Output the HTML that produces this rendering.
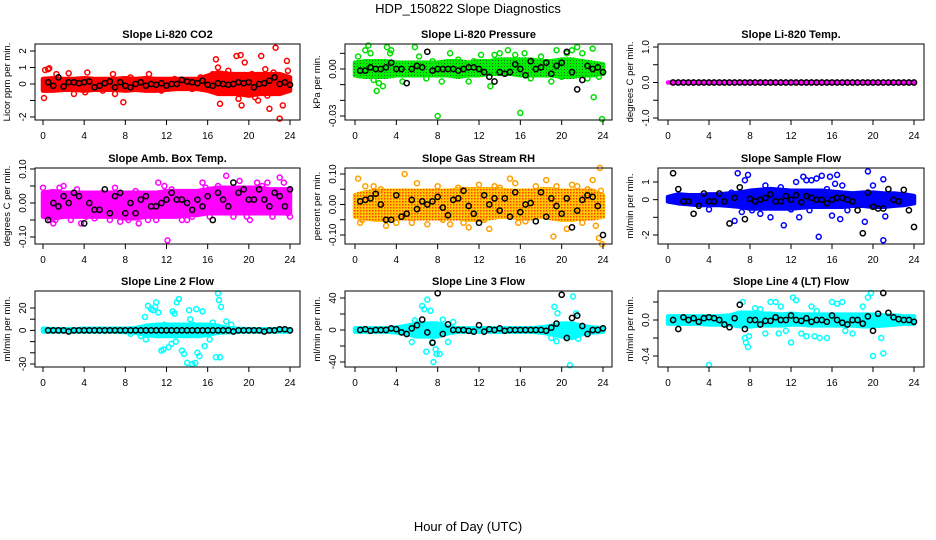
<!DOCTYPE html>
<html><head><meta charset="utf-8"><style>
html,body{margin:0;padding:0;background:#fff;}
svg{display:block;font-family:"Liberation Sans",sans-serif;}
</style></head><body>
<svg id="chart" width="936" height="540" viewBox="0 0 936 540" xmlns="http://www.w3.org/2000/svg">
<defs>
<pattern id="orangePat" width="3" height="3" patternUnits="userSpaceOnUse"><rect width="3" height="3" fill="#ffc800"/><rect x="0" y="0" width="1.5" height="1.5" fill="#ff4000"/></pattern>
<pattern id="greenPat" width="3" height="3" patternUnits="userSpaceOnUse"><rect width="3" height="3" fill="#00ee00"/><rect x="0" y="0" width="1" height="1" fill="#207020"/></pattern>
</defs>
<rect width="936" height="540" fill="#fff"/>
<text x="468" y="13" text-anchor="middle" font-size="13">HDP_150822  Slope Diagnostics</text>
<text x="468" y="531" text-anchor="middle" font-size="13">Hour of Day (UTC)</text>
<g id="panels"></g>
</svg>
<script>
// ---- data ----
const xTicks = [0,4,8,12,16,20,24];
const panelTitles = ["Slope Li-820 CO2","Slope Li-820 Pressure","Slope Li-820 Temp.","Slope Amb. Box Temp.","Slope Gas Stream RH","Slope Sample Flow","Slope Line 2 Flow","Slope Line 3 Flow","Slope Line 4 (LT) Flow"];
const yLabels = ["Licor ppm per min.","kPa per min.","degrees C per min.","degrees C per min.","percent per min.","ml/min per min.","ml/min per min.","ml/min per min.","ml/min per min."];
const yTickVals = [[-2,-1,0,1,2],[0.01,0,-0.01,-0.02,-0.03],[1,0.5,0,-0.5,-1],[0.1,0.05,0,-0.05,-0.1],[0.1,0.05,0,-0.05,-0.1],[1,0,-1,-2],[20,10,0,-10,-20,-30],[40,20,0,-20,-40],[0.2,0,-0.2,-0.4]];
const yTickLabels = [["-2","","0","1","2"],["","0.00","","","-0.03"],["1.0","","0.0","","-1.0"],["0.10","","0.00","","-0.10"],["0.10","","0.00","","-0.10"],["1","0","","-2"],["20","","0","","","-30"],["40","","0","","-40"],["","0.0","","-0.4"]];

const p1Lo=[-0.4,-0.4,-0.35,-0.35,-0.4,-0.35,-0.35,-0.35,-0.4,-0.35,-0.4,-0.4,-0.35,-0.3,-0.3,-0.3,-0.4,-0.6,-0.6,-0.6,-0.7,-0.6,-0.6,-0.6,-0.4];
const p1Hi=[0.3,0.35,0.3,0.3,0.35,0.3,0.3,0.3,0.35,0.3,0.35,0.3,0.3,0.3,0.3,0.3,0.5,0.7,0.6,0.6,0.6,0.6,0.6,0.6,0.4];
const p1Out=[[0.1,-0.85],[0.2,0.85],[0.5,0.9],[0.6,0.95],[1.3,0.6],[1.9,-0.3],[2.5,0.65],[3.0,-0.6],[4.1,-0.5],[4.3,0.7],[5.8,-0.4],[6.8,0.6],[7.0,-0.6],[7.8,-1.1],[8.5,0.4],[9.6,0.2],[10.3,0.6],[11.5,-0.4],[12.8,0.3],[14.5,-0.3],[15.3,0.4],[16.8,1.5],[17.0,1.0],[17.2,-1.2],[17.8,0.6],[18.5,-0.5],[18.8,1.7],[19.2,1.75],[19.0,-0.9],[19.3,-1.3],[19.6,1.3],[20.3,0.6],[20.6,-0.8],[20.9,-1.0],[21.2,1.7],[21.6,0.9],[22.0,-1.5],[22.4,0.7],[22.6,2.2],[23.0,-2.1],[23.3,-1.3],[23.7,1.4],[23.8,0.8],[21.8,-0.7],[18.0,0.8],[16.5,0.6]];
const p1Black=[0.1,-0.1,0.4,-0.15,0.1,0.1,0.05,0.1,0.15,-0.2,-0.1,0.05,0.15,-0.2,0.1,-0.1,-0.2,0.0,0.1,-0.1,0.0,-0.05,0.05,-0.1,0.0,0.0,0.25,0.15,0.1,0.05,0.2,-0.05,-0.1,0.05,0.0,-0.05,0.0,0.1,0.05,0.1,-0.2,0.0,0.05,0.2,0.4,0.0,0.1,-0.05];

const p2Lo=[-0.004,-0.005,-0.005,-0.005,-0.004,-0.004,-0.004,-0.004,-0.004,-0.004,-0.005,-0.004,-0.004,-0.003,-0.003,-0.003,-0.004,-0.004,-0.004,-0.004,-0.005,-0.005,-0.004,-0.004,-0.003];
const p2Hi=[0.004,0.005,0.005,0.005,0.004,0.004,0.004,0.004,0.004,0.005,0.005,0.004,0.005,0.005,0.006,0.006,0.006,0.006,0.005,0.005,0.006,0.006,0.005,0.004,0.003];
const p2Out=[[0.3,0.008],[0.5,-0.004],[1.0,0.012],[1.3,0.015],[1.5,0.01],[1.8,-0.007],[2.1,-0.014],[2.3,-0.009],[2.7,-0.011],[3.1,0.014],[3.4,0.01],[3.5,0.012],[4.6,-0.008],[5.8,0.014],[6.2,0.008],[6.9,-0.006],[7.5,0.005],[8.0,-0.03],[8.4,-0.008],[9.2,0.01],[10.0,0.006],[11.0,-0.008],[11.5,0.005],[12.2,0.009],[13.1,-0.011],[13.5,0.009],[14.0,0.01],[14.8,0.012],[15.5,0.009],[16.0,-0.028],[16.4,0.01],[17.0,-0.006],[18.0,0.008],[19.5,0.012],[20.0,-0.005],[20.5,0.01],[21.0,0.012],[21.5,0.014],[22.0,0.01],[22.5,-0.006],[23.0,0.013],[23.1,-0.018],[23.9,-0.032],[23.6,-0.005],[19.0,-0.008]];
const p2Black=[-0.001,-0.001,0.001,0.0,0.0,0.001,0.004,0.0,0.0,-0.009,0.0,0.002,0.001,0.011,-0.001,0.0,0.0,0.0,0.0,-0.001,0.0,0.001,0.001,0.0,-0.002,-0.005,-0.008,-0.002,-0.003,-0.002,0.003,0.0,-0.004,0.005,0.0,0.001,0.004,-0.003,0.002,0.004,0.011,-0.002,-0.013,-0.007,0.002,0.0,0.001,-0.002];

const p3Lo=[0,0,0,0,0,0,0,0,0,0,0,0,0,0,0,0,0,0,0,0,0,0,0,0,0];
const p3Hi=[0,0,0,0,0,0,0,0,0,0,0,0,0,0,0,0,0,0,0,0,0,0,0,0,0];
const p3Out=[];
const p3Black=[0,0,0,0,0,0,0,0,0,0,0,0,0,0,0,0,0,0,0,0,0,0,0,0,0,0,0,0,0,0,0,0,0,0,0,0,0,0,0,0,0,0,0,0,0,0,0,0];

const p4Lo=[-0.04,-0.045,-0.04,-0.04,-0.04,-0.04,-0.04,-0.04,-0.045,-0.045,-0.04,-0.04,-0.04,-0.04,-0.035,-0.035,-0.03,-0.03,-0.03,-0.03,-0.03,-0.03,-0.03,-0.03,-0.03];
const p4Hi=[0.03,0.035,0.03,0.03,0.03,0.03,0.03,0.03,0.03,0.03,0.03,0.03,0.035,0.035,0.035,0.035,0.04,0.045,0.045,0.045,0.045,0.045,0.04,0.04,0.04];
const p4Out=[[0.0,0.045],[0.4,-0.03],[0.7,-0.05],[1.2,-0.05],[1.6,0.045],[2.0,0.05],[2.7,-0.05],[3.3,0.04],[4.2,-0.04],[5.0,-0.045],[5.8,0.03],[6.5,-0.05],[7.0,0.045],[7.5,-0.055],[8.3,-0.05],[9.0,0.035],[9.3,-0.06],[10.2,-0.05],[11.0,-0.05],[11.2,0.06],[11.8,0.05],[12.1,-0.11],[12.5,0.04],[13.5,-0.05],[14.0,-0.05],[14.5,-0.04],[15.5,0.06],[15.8,0.045],[17.0,0.05],[17.8,0.08],[18.5,-0.04],[19.1,0.065],[19.8,-0.04],[20.1,-0.05],[20.8,0.06],[21.3,0.05],[21.8,0.06],[22.3,-0.04],[23.0,0.075],[23.4,0.06],[23.8,-0.03],[24.0,-0.04],[16.2,-0.04],[3.7,-0.06],[1.0,-0.06]];
const p4Black=[-0.05,0.0,-0.01,0.02,0.0,0.03,0.02,-0.06,0.0,-0.02,-0.02,0.04,-0.03,0.02,0.03,-0.03,0.0,-0.03,0.01,0.02,-0.01,-0.01,0.0,0.01,0.03,0.01,0.01,0.0,-0.02,0.01,-0.01,0.02,-0.05,0.03,0.01,-0.01,0.06,0.03,0.04,0.01,0.01,0.04,0.01,-0.01,0.03,0.02,-0.01,0.04];

const p5Lo=[-0.04,-0.045,-0.05,-0.05,-0.045,-0.045,-0.045,-0.045,-0.045,-0.045,-0.045,-0.05,-0.05,-0.045,-0.04,-0.04,-0.045,-0.045,-0.04,-0.045,-0.05,-0.05,-0.045,-0.045,-0.04];
const p5Hi=[0.03,0.04,0.045,0.045,0.045,0.045,0.045,0.045,0.045,0.045,0.05,0.05,0.05,0.05,0.05,0.045,0.045,0.045,0.05,0.05,0.045,0.045,0.045,0.045,0.03];
const p5Out=[[0.3,0.085],[0.5,-0.06],[0.7,-0.05],[1.0,0.06],[1.8,0.06],[2.5,0.05],[3.0,-0.07],[4.0,-0.06],[4.8,0.1],[5.5,-0.06],[6.0,0.07],[7.0,-0.065],[8.0,0.06],[8.5,-0.05],[9.2,-0.065],[10.0,0.055],[10.5,-0.06],[11.0,-0.075],[12.0,0.065],[12.5,-0.05],[13.0,-0.08],[13.5,0.06],[14.0,0.055],[15.0,0.085],[15.5,0.07],[15.8,-0.06],[16.5,-0.055],[17.5,0.06],[18.5,0.08],[19.2,-0.105],[19.5,0.06],[20.5,-0.08],[21.0,0.065],[21.5,0.06],[22.0,-0.06],[22.5,0.05],[23.0,0.08],[23.3,-0.07],[23.6,-0.11],[23.7,0.12],[23.9,-0.13],[23.8,0.045]];
const p5Black=[0.01,0.015,0.02,0.035,0.0,-0.05,-0.05,0.03,-0.04,-0.03,0.015,-0.015,0.01,0.0,0.01,0.025,-0.01,-0.035,0.015,0.02,0.045,-0.005,-0.03,-0.06,0.03,0.0,0.02,-0.02,0.02,-0.04,0.04,-0.025,0.0,0.005,-0.055,0.04,-0.04,0.02,-0.005,-0.03,0.02,-0.075,-0.02,0.015,0.03,0.025,-0.005,-0.1];

const p6Lo=[-0.1,-0.2,-0.25,-0.3,-0.3,-0.3,-0.35,-0.4,-0.5,-0.5,-0.5,-0.5,-0.5,-0.45,-0.4,-0.4,-0.4,-0.4,-0.35,-0.35,-0.4,-0.4,-0.35,-0.3,-0.2];
const p6Hi=[0.15,0.3,0.25,0.25,0.3,0.3,0.35,0.4,0.5,0.55,0.6,0.55,0.5,0.5,0.5,0.5,0.45,0.4,0.35,0.4,0.4,0.35,0.35,0.3,0.2];
const p6Out=[[4.0,-0.55],[6.2,0.4],[6.5,-1.2],[6.8,1.5],[7.2,-0.7],[7.5,1.1],[7.8,1.4],[8.2,-0.6],[9.0,-0.8],[10.0,-1.0],[11.0,0.7],[11.3,-1.45],[12.0,-0.55],[12.5,1.0],[12.8,-1.0],[13.2,1.3],[13.5,1.1],[14.0,1.1],[14.5,1.2],[14.7,-2.1],[15.0,1.35],[15.5,0.6],[16.0,-0.9],[16.3,0.9],[16.8,-1.1],[17.0,0.8],[17.5,-0.6],[18.0,0.3],[19.2,-1.25],[19.5,1.6],[20.0,0.8],[21.0,-2.3],[21.2,-0.95],[21.0,1.15],[15.8,1.3],[16.5,1.4],[13.8,-0.6],[9.5,0.8]];
const p6Black=[1.5,0.6,-0.1,-0.1,-0.8,-0.35,0.35,-0.1,-0.1,0.35,-0.1,-1.35,0.1,0.7,-1.1,0.05,-0.1,0.0,0.1,0.3,-0.1,-0.1,0.2,0.0,0.25,-0.15,0.2,0.1,0.0,0.0,-0.2,0.0,0.1,0.1,0.0,-0.1,-0.6,-1.9,0.4,-0.4,-0.5,-0.5,0.6,0.0,-0.1,0.55,-0.6,-1.55];

const p7Lo=[-1,-1,-1,-1,-1,-1,-1,-1,-1.5,-2,-4,-5,-5,-5,-5,-5,-4,-2,-1.5,-1,-1,-1,-1,-1,-1];
const p7Hi=[1.5,1,1,1,1.5,1.5,1.5,1.5,1.5,2,4,5,5,5,5,5,5,4,2,1.5,1,1,1,1,1];
const p7Out=[[9.9,12],[10.0,-8],[10.2,22],[10.5,19],[10.7,18],[10.9,21],[11.0,25],[11.2,16],[11.5,-18],[11.7,-17],[12.2,-15],[12.5,-12],[12.6,17],[12.8,15],[13.0,25],[13.2,28],[13.5,-18],[13.7,-21],[14.0,-29],[14.2,18],[14.3,10],[14.5,-30],[14.8,-29],[14.9,19],[15.0,-20],[15.2,-23],[15.5,17],[15.7,-14],[16.2,-8],[16.8,-24],[17.0,33],[17.1,27],[17.3,21],[17.2,-24],[17.8,8],[18.3,5],[11.8,5],[12.9,-10],[14.6,5],[16.5,7],[10.5,-3],[9.5,-5],[8.5,-3]];
const p7Black=[0,0,0,0,-1,0,0,0,0,0,0,0,0,0,0,0,0,0,0,0,0,0,0,0,0,0,0,0,0,0,0,0,0,0,0,0,-1,0,0,0,0,0,-1,0,0,1,1,0];

const p8Lo=[-2,-2,-2,-2,-3,-5,-8,-8,-8,-4,-2,-2,-2,-2,-2,-2,-2,-2,-3,-5,-8,-10,-5,-3,-2];
const p8Hi=[2,2,2,2,3,5,8,8,8,4,2,2,2,2,2,2,2,2,3,5,8,8,5,3,2];
const p8Out=[[5.5,-15],[5.8,12],[6.5,30],[6.7,26],[6.9,-27],[7.0,38],[7.3,24],[7.5,-15],[7.6,-40],[7.8,-24],[7.9,-30],[8.2,-30],[8.5,13],[9.0,-15],[9.5,10],[19.0,-10],[19.3,29],[19.5,-14],[19.6,21],[20.4,7],[20.8,-44],[21.1,42],[21.4,21],[21.6,-11],[6.0,8]];
const p8Black=[0,1,-1,0,0,0,2,1,-3,-5,2,6,13,-3,-16,46,-5,7,0,0,0,-1,-2,6,-2,1,0,2,-1,0,0,0,0,0,0,0,-1,3,8,44,-10,15,18,5,-5,0,0,2];

const p9Lo=[-0.04,-0.04,-0.04,-0.04,-0.05,-0.05,-0.05,-0.07,-0.07,-0.06,-0.06,-0.06,-0.05,-0.05,-0.06,-0.06,-0.06,-0.06,-0.06,-0.07,-0.07,-0.06,-0.05,-0.04,-0.04];
const p9Hi=[0.04,0.04,0.04,0.04,0.04,0.04,0.05,0.08,0.08,0.07,0.07,0.06,0.07,0.06,0.06,0.06,0.06,0.06,0.06,0.06,0.06,0.05,0.05,0.04,0.04];
const p9Out=[[4.0,-0.5],[7.5,-0.2],[7.6,-0.25],[7.8,-0.3],[7.3,0.2],[7.9,-0.18],[8.5,0.13],[9.0,0.12],[9.5,-0.15],[10.0,0.2],[10.5,0.2],[11.0,0.15],[11.5,-0.12],[12.0,-0.25],[12.2,0.25],[12.5,0.22],[13.0,-0.15],[13.5,-0.18],[14.0,0.15],[14.3,-0.18],[14.8,-0.2],[15.5,-0.2],[16.0,0.2],[16.5,0.18],[17.0,0.2],[17.3,-0.12],[18.0,-0.15],[19.0,0.15],[19.5,0.25],[19.8,0.3],[20.0,-0.4],[21.0,-0.37],[20.8,-0.2],[14.5,0.1],[10.8,-0.15]];
const p9Black=[0.0,-0.1,0.03,0.0,0.02,-0.02,0.02,0.03,0.02,0.0,-0.05,-0.08,0.02,0.17,-0.1,0.0,0.0,-0.05,-0.01,-0.01,0.03,0.0,0.0,0.05,0.0,-0.01,0.02,-0.02,0.0,0.0,-0.02,0.05,0.0,-0.03,-0.05,0.0,0.0,-0.04,0.04,-0.12,0.07,0.3,0.08,0.03,0.01,0.0,0.0,-0.02];

// ---- layout ----
const cols=[{bx0:35,bx1:300,x0:43,x24:290},{bx0:345,bx1:612,x0:355,x24:603},{bx0:658,bx1:924,x0:668,x24:914}];
const rows=[{by0:44,by1:120},{by0:168,by1:244},{by0:291,by1:367}];
const yRef=[[2,51,-2,117],[0,69,-0.03,116],[1,47,-1,118],[0.1,169,-0.1,237],[0.1,174,-0.1,235],[1,182,-2,235],[20,308,-30,364],[40,298,-40,362],[0,320,-0.4,356]];
const colors=["#ff0000","#00e000","#ff00ff","#ff00ff","#ffa000","#0000ff","#00ffff","#00ffff","#00ffff"];
const bandFill=["#ff0000","url(#greenPat)","#ff00ff","#ff00ff","url(#orangePat)","#0000ff","#00ffff","#00ffff","#00ffff"];
const los=[p1Lo,p2Lo,p3Lo,p4Lo,p5Lo,p6Lo,p7Lo,p8Lo,p9Lo];
const his=[p1Hi,p2Hi,p3Hi,p4Hi,p5Hi,p6Hi,p7Hi,p8Hi,p9Hi];
const outs=[p1Out,p2Out,p3Out,p4Out,p5Out,p6Out,p7Out,p8Out,p9Out];
const blacks=[p1Black,p2Black,p3Black,p4Black,p5Black,p6Black,p7Black,p8Black,p9Black];

const NS="http://www.w3.org/2000/svg";
const root=document.getElementById('panels');
function mk(tag,attrs,parent){const e=document.createElementNS(NS,tag);for(const k in attrs)e.setAttribute(k,attrs[k]);parent.appendChild(e);return e;}

for(let p=0;p<9;p++){
  const c=cols[p%3], r=rows[Math.floor(p/3)];
  const xs=h=>c.x0+(c.x24-c.x0)*h/24;
  const [v1,py1,v2,py2]=yRef[p];
  const ys=v=>py1+(v-v1)*(py2-py1)/(v2-v1);
  const g=mk('g',{},root);
  
  
  const t=mk('text',{x:(c.bx0+c.bx1)/2,y:r.by0-6,'text-anchor':'middle','font-size':'11','font-weight':'bold'},g);
  t.textContent=panelTitles[p];
  
  
  const lo=los[p],hi=his[p];
  let d='';
  for(let i=0;i<hi.length;i++)d+=(i?'L':'M')+xs(i*24/(hi.length-1)).toFixed(1)+','+ys(hi[i]).toFixed(1);
  for(let i=lo.length-1;i>=0;i--)d+='L'+xs(i*24/(lo.length-1)).toFixed(1)+','+ys(lo[i]).toFixed(1);
  d+='Z';
  const band=mk('path',{d:d,fill:bandFill[p],stroke:bandFill[p],'stroke-width':'4.5','stroke-linejoin':'round'},g);
  
  
  outs[p].forEach(pt=>{
    const ci=mk('circle',{cx:xs(pt[0]).toFixed(1),cy:ys(pt[1]).toFixed(1),r:'2.5',fill:'none',stroke:colors[p],'stroke-width':'1.5'},g);
    
    
  });
  const b=blacks[p];
  b.forEach((v,i)=>{
    const ci=mk('circle',{cx:xs((i+1)*24/b.length).toFixed(1),cy:ys(v).toFixed(1),r:'2.6',fill:'none',stroke:'#000','stroke-width':'1.5'},g);
    
    
  });
  const bx=mk('rect',{x:c.bx0,y:r.by0,width:c.bx1-c.bx0,height:r.by1-r.by0,fill:'none',stroke:'#000','stroke-width':'1'},g);
  
  
  xTicks.forEach(h=>{
    mk('line',{x1:xs(h),x2:xs(h),y1:r.by1,y2:r.by1+5,stroke:'#000'},g);
    const tx=mk('text',{x:xs(h),y:r.by1+19,'text-anchor':'middle','font-size':'10'},g);
    tx.textContent=h;
    
    
  });
  yTickVals[p].forEach((v,i)=>{
    const yy=ys(v);
    mk('line',{x1:c.bx0-5,x2:c.bx0,y1:yy,y2:yy,stroke:'#000'},g);
    const lab=(yTickLabels[p]||[])[i];
    if(lab){
      const tx=mk('text',{x:c.bx0-9,y:yy,'text-anchor':'middle','font-size':'10',transform:'rotate(-90 '+(c.bx0-9)+' '+yy+')'},g);
      tx.textContent=lab;
      
      
    }
  });
  const ym=(r.by0+r.by1)/2, yx=c.bx0-25;
  const yl=mk('text',{x:yx,y:ym,'text-anchor':'middle','font-size':'9.5',transform:'rotate(-90 '+yx+' '+ym+')'},g);
  yl.textContent=yLabels[p];
  
  
}
</script>
</body></html>
